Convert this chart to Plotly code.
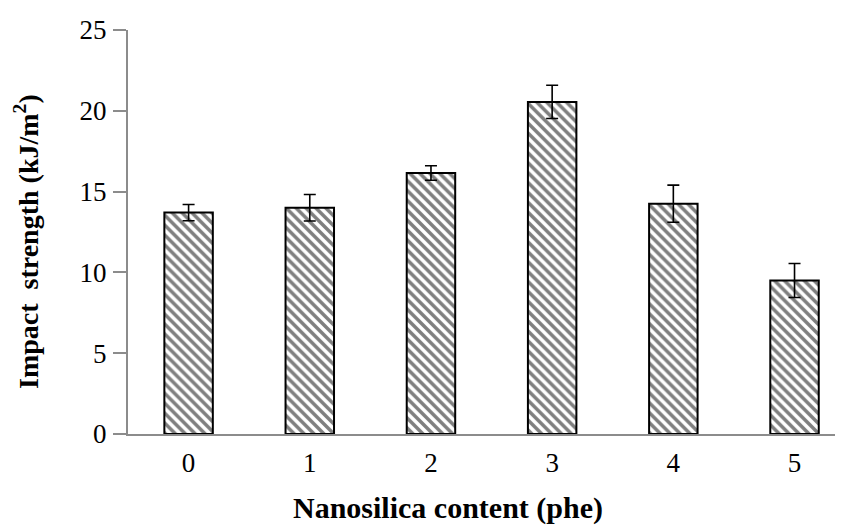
import plotly.graph_objects as go

categories = [0, 1, 2, 3, 4, 5]
tick_labels = ["0", "1", "2", "3", "4", "5"]
impact_strength = [13.7, 14.0, 16.15, 20.55, 14.25, 9.5]
error_values = [0.5, 0.82, 0.45, 1.03, 1.15, 1.05]

# page body has an 8px default margin; compensate so the screen layout matches
OFF = 8
W, H = 843 - OFF, 531 - OFF
L, R, T, B = 128 - OFF, 0, 30 - OFF, 97

fig = go.Figure()
fig.add_trace(go.Bar(
    x=categories,
    y=impact_strength,
    width=0.4,
    marker=dict(
        color="white",
        line=dict(color="black", width=2),
        pattern=dict(shape="\\", fgcolor="black", bgcolor="white", size=7, solidity=0.5),
    ),
    error_y=dict(type="data", array=error_values, visible=True,
                 color="black", thickness=1.6, width=6),
))

FF = "Liberation Serif"
tickfont = dict(family=FF, size=27, color="black")

fig.update_layout(
    width=W, height=H,
    margin=dict(l=L, r=R, t=T, b=B, autoexpand=False),
    paper_bgcolor="white", plot_bgcolor="white",
    showlegend=False,
    font=dict(family=FF, size=27, color="black"),
)
fig.update_xaxes(
    range=[-0.5, 5.4], automargin=False,
    tickmode="array", tickvals=categories, ticktext=tick_labels,
    tickfont=tickfont,
    showline=True, linecolor="#8c8c8c", linewidth=2,
    ticks="", showgrid=False, zeroline=False,
    ticklabelstandoff=4,
)
fig.update_yaxes(
    range=[0, 25], tickvals=[0, 5, 10, 15, 20, 25], automargin=False,
    tickfont=tickfont,
    showline=True, linecolor="#8c8c8c", linewidth=2,
    ticks="outside", ticklen=13, tickcolor="#8c8c8c", tickwidth=2,
    showgrid=False, zeroline=False,
    ticklabelstandoff=1,
)

pw, ph = W - L - R, H - T - B
fig.add_annotation(
    text="<b>Nanosilica content (phe)</b>",
    xref="paper", yref="paper",
    x=(448 - OFF - L) / pw, y=-(508 - OFF - (H - B)) / ph,
    showarrow=False, xanchor="center", yanchor="middle",
    font=dict(family=FF, size=30, color="black"),
)
fig.add_annotation(
    text="<b>Impact  strength (kJ/m<sup>2</sup>)</b>",
    xref="paper", yref="paper",
    x=-(L - (26 - OFF)) / pw, y=1 - (242 - OFF - T) / ph,
    textangle=-90,
    showarrow=False, xanchor="center", yanchor="middle",
    font=dict(family=FF, size=28, color="black"),
)

fig.write_html("out.html")
